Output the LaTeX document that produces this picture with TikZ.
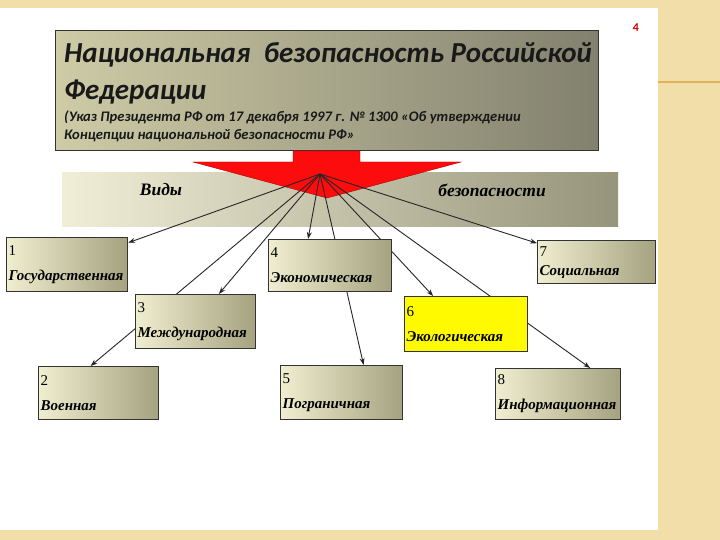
\documentclass[tikz,border=0pt]{standalone}
\usepackage{fontspec}
\setmainfont{Liberation Serif}
\newfontfamily\headfont{Carlito}
\usepackage{tikz}
\usetikzlibrary{arrows.meta}

\definecolor{slidebg}{RGB}{242,222,168}
\definecolor{lineorange}{RGB}{226,178,88}
\definecolor{boxlight}{RGB}{240,238,208}
\definecolor{boxdark}{RGB}{165,162,128}
\definecolor{headlight}{RGB}{206,203,166}
\definecolor{headdark}{RGB}{130,129,110}
\definecolor{bandlight}{RGB}{240,238,214}
\definecolor{banddark}{RGB}{150,148,122}
\definecolor{arrowred}{RGB}{252,12,12}
\definecolor{ecoyellow}{RGB}{255,250,0}

\newcommand\kindname[1]{\textbf{\textit{#1}}}

\pgfdeclarelayer{front}
\pgfsetlayers{main,front}

\begin{document}
\begin{tikzpicture}[x=1pt, y=-1pt,
		kind/.style={draw=black!80, line width=1.2pt, anchor=north west,
			left color=boxlight, right color=boxdark, inner xsep=2pt, inner ysep=2pt,
			align=left, text width=#1, font=\fontsize{15}{16}\selectfont},
		titletext/.style={anchor=base west, inner sep=0pt, text=black!90,
			font=\headfont\bfseries\itshape\fontsize{29}{32}\selectfont},
		subtext/.style={anchor=base west, inner sep=0pt, text=black!90,
			font=\headfont\bfseries\itshape\fontsize{14.6}{16}\selectfont},
		bandtext/.style={font=\bfseries\itshape\fontsize{17.5}{18}\selectfont},
		link/.style={-{Stealth[length=7pt, width=5pt]}, line width=0.9pt, black!85}]
	\useasboundingbox (0,0) rectangle (720,540);

	% Slide background
	\fill[slidebg] (0,0) rectangle (720,540);
	\fill[white] (0,8) rectangle (658,530);
	\draw[line width=2pt, lineorange] (658,82) -- (720,82);
	\node[font=\headfont\bfseries\fontsize{12}{14}\selectfont, text=red!85!black] (pagenum) at (636,28) {4};

	% Header
	\node[draw=black!80, line width=1pt, anchor=north west, minimum width=543pt, minimum height=120pt,
		left color=headlight, right color=headdark] (header) at (55,30) {};
	\node[titletext] (t1) at (64,63) {Национальная\ \ безопасность Российской};
	\node[titletext] (t2) at (64,100) {Федерации};
	\node[subtext] (s1) at (64,122) {(Указ Президента РФ от 17 декабря 1997 г. № 1300 «Об утверждении};
	\node[subtext] (s2) at (64,140) {Концепции национальной безопасности РФ»};

	% Band
	\node[anchor=north west, minimum width=556pt, minimum height=54pt,
		left color=bandlight, right color=banddark] (band) at (62,172) {};
	\node[bandtext] (vidy) at (161,190) {Виды};
	\node[bandtext] (bez) at (492,190) {безопасности};

	% Red arrow
	\filldraw[fill=arrowred, draw=red!70!black, line width=0.4pt]
		(293,151) -- (360,151) -- (360,162) -- (461,162) -- (327,198) -- (193,162) -- (293,162) -- cycle;
	\coordinate (hub) at (320,174);

	% Kinds of security
	\begin{pgfonlayer}{front}
		\node[kind=117pt, minimum height=54pt] (k1) at (6,237) {1\\[9pt]\kindname{Государственная}};
		\node[kind=116pt, minimum height=53pt] (k2) at (38,366) {2\\[9pt]\kindname{Военная}};
		\node[kind=116pt, minimum height=54pt] (k3) at (135,294) {3\\[9pt]\kindname{Международная}};
		\node[kind=119pt, minimum height=52pt] (k4) at (268,239) {4\\[9pt]\kindname{Экономическая}};
		\node[kind=118pt, minimum height=54pt] (k5) at (280,365) {5\\[9pt]\kindname{Пограничная}};
		\node[kind=119pt, minimum height=55pt, left color=ecoyellow, right color=ecoyellow] (k6) at (404,296) {6\\[9pt]\kindname{Экологическая}};
		\node[kind=114pt, minimum height=43pt] (k7) at (537,240) {7\\[3pt]\kindname{Социальная}};
		\node[kind=121pt, minimum height=51pt] (k8) at (495,368) {8\\[9pt]\kindname{Информационная}};
	\end{pgfonlayer}

	% Links
	\foreach \k in {k1,k3,k7}
		\draw[link] (hub) -- (\k);
	\draw[link] (hub) -- ([xshift=-8pt]k2.north);
	\draw[link] (hub) -- ([xshift=-22pt]k4.north);
	\draw[link] (hub) -- ([xshift=22pt]k5.north);
	\draw[link] (hub) -- ([xshift=-33pt]k6.north);
	\draw[link] (hub) -- ([xshift=32pt]k8.north);
\end{tikzpicture}
\end{document}
